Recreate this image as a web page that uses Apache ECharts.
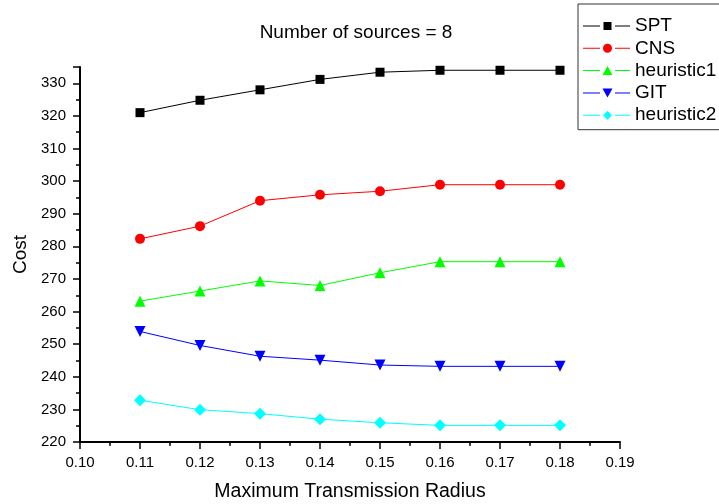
<!DOCTYPE html>
<html>
<head>
<meta charset="utf-8">
<script src="https://cdn.jsdelivr.net/npm/echarts@6/dist/echarts.min.js"></script>
<style>
  html, body { margin: 0; padding: 0; background: #fff; }
  #chart { width: 719px; height: 504px; }
</style>
</head>
<body>
<div id="chart"></div>
<script>
    // radius values on the x axis
    var radius = [0.11, 0.12, 0.13, 0.14, 0.15, 0.16, 0.17, 0.18];
    var spt = [321, 324.8, 328, 331.2, 333.4, 334, 334, 334];
    var cns = [282.3, 286.2, 294, 295.8, 296.9, 298.9, 298.9, 298.9];
    var heuristic1 = [263.2, 266.3, 269.4, 268, 271.9, 275.3, 275.3, 275.3];
    var git = [253.9, 249.6, 246.3, 245.1, 243.6, 243.2, 243.2, 243.2];
    var heuristic2 = [232.8, 229.9, 228.7, 227, 225.9, 225.1, 225.1, 225.1];
    var names = ['SPT', 'CNS', 'heuristic1', 'GIT', 'heuristic2'];

    function pairs(ys) {
        return radius.map(function (x, i) { return [x, ys[i]]; });
    }

    // legend icon: line - marker - line, with small gaps (like Origin)
    function legendIcon(marker) {
        return 'path://M0,4 L17,4 L17,5 L0,5 Z ' + marker + ' M32,4 L47,4 L47,5 L32,5 Z';
    }
    var markers = {
        rect: 'M20.5,0.5 L28.5,0.5 L28.5,8.5 L20.5,8.5 Z',
        circle: 'M29,4.5 A4.5,4.5 0 1 1 20,4.5 A4.5,4.5 0 1 1 29,4.5 Z',
        up: 'M24.5,0 L29.5,9 L19.5,9 Z',
        down: 'M19.5,0 L29.5,0 L24.5,9 Z',
        diamond: 'M24.5,0 L29,4.5 L24.5,9 L20,4.5 Z'
    };

    function line(name, data, color, symbol, size) {
        return {
            name: name,
            type: 'line',
            data: pairs(data),
            symbol: symbol,
            symbolSize: size,
            lineStyle: { color: color, width: 1 },
            itemStyle: { color: color },
            animation: false
        };
    }

    var myEchart = echarts.init(document.getElementById('chart'));
    var font = 'Liberation Sans, Arial, sans-serif';
    var option = {
        backgroundColor: '#fff',
        title: {
            text: 'Number of sources = 8',
            left: 351,
            textAlign: 'center',
            top: 18,
            textStyle: { color: '#000', fontSize: 19, fontWeight: 'normal', fontFamily: font }
        },
        legend: {
            orient: 'vertical',
            left: 578,
            top: 4,
            padding: [12.5, 10, 5, 5],
            borderColor: '#333',
            borderWidth: 1,
            itemWidth: 47,
            itemHeight: 9,
            itemGap: 3.3,
            textStyle: { color: '#000', fontSize: 19, fontFamily: font },
            data: [
                { name: names[0], icon: legendIcon(markers.rect) },
                { name: names[1], icon: legendIcon(markers.circle) },
                { name: names[2], icon: legendIcon(markers.up) },
                { name: names[3], icon: legendIcon(markers.down) },
                { name: names[4], icon: legendIcon(markers.diamond) }
            ]
        },
        grid: {
            left: 80,
            right: 99,
            top: 67,
            bottom: 62,
            outerBoundsMode: 'none'
        },
        xAxis: {
            type: 'value',
            min: 0.10,
            max: 0.19,
            interval: 0.01,
            name: 'Maximum Transmission Radius',
            nameLocation: 'middle',
            nameGap: 40,
            nameTextStyle: { color: '#000', fontSize: 19.5, fontFamily: font },
            splitLine: { show: false },
            axisLine: { lineStyle: { color: '#000', width: 2 } },
            axisTick: { inside: false, length: 7, lineStyle: { color: '#000', width: 1.5 } },
            minorTick: { show: true, splitNumber: 2, length: 4, lineStyle: { color: '#000', width: 1.5 } },
            axisLabel: {
                color: '#000', fontSize: 15, fontFamily: font, margin: 13,
                formatter: function (v) { return v.toFixed(2); }
            }
        },
        yAxis: {
            type: 'value',
            min: 220,
            max: 335,
            interval: 10,
            name: 'Cost',
            nameLocation: 'middle',
            nameGap: 50,
            nameTextStyle: { color: '#000', fontSize: 19, fontFamily: font },
            splitLine: { show: false },
            axisLine: { lineStyle: { color: '#000', width: 2 } },
            axisTick: { inside: false, length: 7, lineStyle: { color: '#000', width: 1.5 } },
            minorTick: { show: true, splitNumber: 2, length: 4, lineStyle: { color: '#000', width: 1.5 } },
            axisLabel: {
                color: '#000', fontSize: 15, fontFamily: font, margin: 14,
                showMaxLabel: false
            }
        },
        series: [
            line(names[0], spt, '#000000', 'rect', 9),
            line(names[1], cns, '#ff0000', 'circle', 10),
            line(names[2], heuristic1, '#00ff00', 'triangle', 11),
            line(names[3], git, '#0000ff', 'path://M0,0 L10,0 L5,9 Z', 11),
            line(names[4], heuristic2, '#00ffff', 'diamond', 12)
        ]
    };
    myEchart.setOption(option);
</script>
</body>
</html>
